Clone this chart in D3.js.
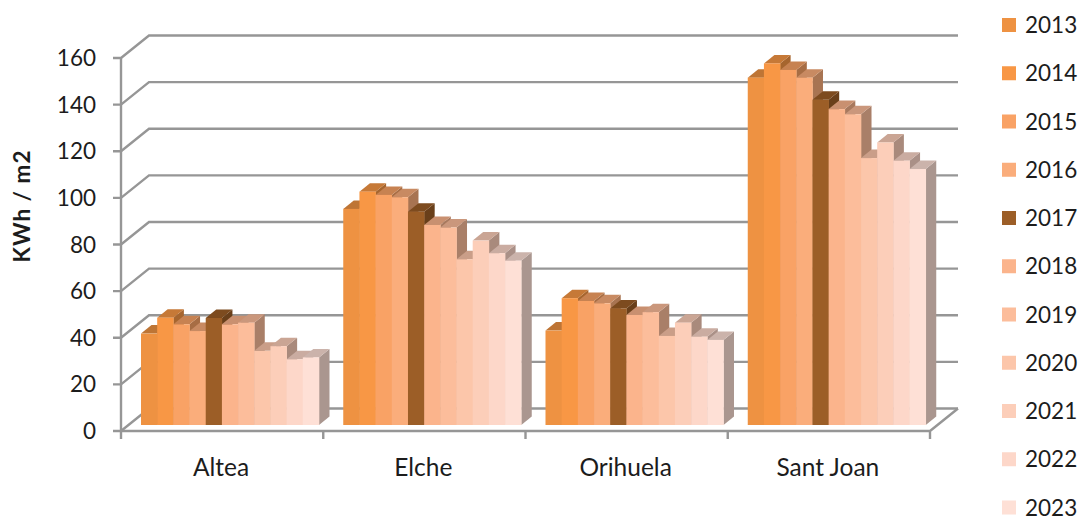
<!DOCTYPE html>
<html><head><meta charset="utf-8">
<script src="https://cdn.jsdelivr.net/npm/d3@7/dist/d3.min.js"></script>
<style>html,body{margin:0;padding:0;background:#fff}svg{display:block}text{font-family:Lato,sans-serif;fill:#1c1c1c}</style>
</head><body><svg id="c" width="1087" height="520"></svg>
<script>
const categories = ["Altea","Elche","Orihuela","Sant Joan"];
const years = ["2013","2014","2015","2016","2017","2018","2019","2020","2021","2022","2023"];
const altea    = [39.2,46.0,43.2,40.3,45.9,43.2,43.9,31.8,33.8,28.2,29.0];
const elche    = [92.7,100.1,98.7,97.7,91.5,85.8,84.7,71.1,79.1,73.7,70.5];
const orihuela = [40.5,54.4,53.2,52.2,50.0,47.2,48.4,38.2,43.9,37.9,36.5];
const santJoan = [149.0,155.1,152.3,149.0,139.5,135.5,133.3,114.5,121.2,113.4,109.8];
const colors = ["#EE9242","#F89745","#F9A265","#FAAD7B","#9C5E27","#FBB48C","#FCBD9B","#FCC6AA","#FCCEB9","#FDD7C9","#FEE0D6"];
const yTicks = [0,20,40,60,80,100,120,140,160];

const series = [altea,elche,orihuela,santJoan];
const svg = d3.select("#c");
const y = d3.scaleLinear().domain([0,160]).range([431,58]);
const x = d3.scaleBand().domain(categories).range([121,930]);
const inner = d3.scaleBand().domain(years).range([20,198]);
const wall = {dx:28, dy:22.5};
const bar = {ox:0, oy:-6, dx:10.5, dy:8.5};
const gray = "#969696";
const lineStyle = s => s.attr("stroke",gray).attr("stroke-width",2.4).attr("fill","none");

// walls and gridlines
const grid = svg.append("g");
yTicks.forEach(t=>{
  const p = d3.path();
  p.moveTo(113,y(t)); p.lineTo(121,y(t));
  p.lineTo(121+wall.dx,y(t)-wall.dy); p.lineTo(930+wall.dx,y(t)-wall.dy);
  grid.append("path").attr("d",p).call(lineStyle);
});
// floor and axes
const floor = d3.path();
floor.moveTo(930,431); floor.lineTo(930+wall.dx,431-wall.dy);
floor.moveTo(121,431); floor.lineTo(930,431);
floor.moveTo(121,58); floor.lineTo(121,439);
categories.forEach(c=>{ floor.moveTo(x(c),431); floor.lineTo(x(c),439); });
floor.moveTo(930,431); floor.lineTo(930,439);
grid.append("path").attr("d",floor).call(lineStyle);

// bars: drawn left to right, top and side then front
categories.forEach((c,ci)=>{
  const g = svg.append("g");
  years.forEach((yr,i)=>{
    const v = series[ci][i];
    const x0 = x(c)+inner(yr), w = inner.bandwidth(), top = y(v)+bar.oy, base = y(0)+bar.oy;
    const col = d3.rgb(colors[i]);
    const shade = k => d3.rgb(col.r*k,col.g*k,col.b*k).formatHex();
    const topFace = d3.path();
    topFace.moveTo(x0,top); topFace.lineTo(x0+bar.dx,top-bar.dy);
    topFace.lineTo(x0+w+bar.dx,top-bar.dy); topFace.lineTo(x0+w,top); topFace.closePath();
    const side = d3.path();
    side.moveTo(x0+w,top); side.lineTo(x0+w+bar.dx,top-bar.dy);
    side.lineTo(x0+w+bar.dx,base-bar.dy); side.lineTo(x0+w,base); side.closePath();
    g.append("path").attr("d",side).attr("fill",shade(0.67));
    g.append("path").attr("d",topFace).attr("fill",shade(0.8));
    g.append("rect").attr("x",x0).attr("y",top).attr("width",w+0.3).attr("height",base-top).attr("fill",colors[i]);
  });
  svg.append("text").attr("x",x(c)+x.bandwidth()/2-1).attr("y",476).attr("text-anchor","middle")
    .attr("font-size",24.5).text(c);
});

// y labels
svg.append("g").selectAll("text").data(yTicks).join("text")
  .attr("x",96).attr("y",d=>y(d)+8).attr("text-anchor","end").attr("font-size",22.5).text(d=>d);
svg.append("text").attr("transform","translate(30,206) rotate(-90)").attr("text-anchor","middle")
  .attr("font-size",22.5).attr("letter-spacing",1).attr("font-weight",700).text("KWh / m2");

// legend
const ly = d3.scalePoint().domain(years).range([25,507.5]);
const leg = svg.append("g").selectAll("g").data(years).join("g");
leg.append("rect").attr("x",1002).attr("y",d=>ly(d)-7).attr("width",14).attr("height",14)
  .attr("fill",(d,i)=>colors[i]);
leg.append("text").attr("x",1025).attr("y",d=>ly(d)+8).attr("font-size",22.5).text(d=>d);
</script></body></html>
